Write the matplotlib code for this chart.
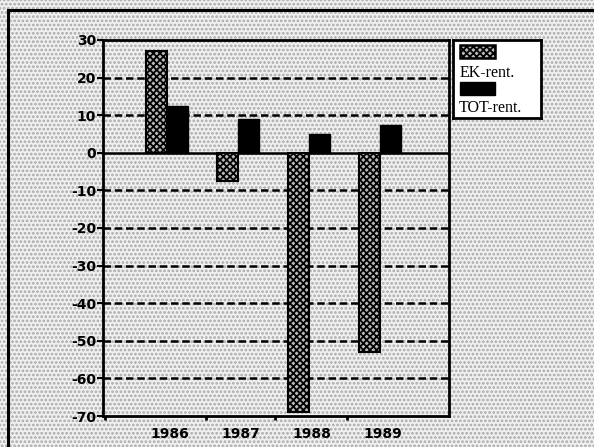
import numpy as np
import matplotlib.pyplot as plt
from matplotlib.patches import Rectangle

# Data
years = ['1986', '1987', '1988', '1989']
ek_rent = [27, -7.5, -69, -53]
tot_rent = [12.5, 9, 5, 7.5]
yticks = [30, 20, 10, 0, -10, -20, -30, -40, -50, -60, -70]

plt.rcParams['hatch.linewidth'] = 1.3

fig = plt.figure(figsize=(5.94, 4.47), dpi=100)
fig.patch.set_facecolor('#f0f0f0')

# stippled background + outer frame
bg = Rectangle((0, 0), 1, 1, transform=fig.transFigure, facecolor='#f0f0f0',
               hatch='....', edgecolor='#a8a8a8', linewidth=0, zorder=-10)
fig.patches.append(bg)
frame = Rectangle((8/594, -0.1), 1.2, 1.1 - 10/447, transform=fig.transFigure,
                  fill=False, edgecolor='black', linewidth=2.2, zorder=5)
fig.patches.append(frame)

ax = fig.add_axes([103/594, 31/447, 346/594, 376/447])
ax.set_facecolor('none')

x = np.arange(len(years))
w = 0.3
ax.bar(x - w/2, ek_rent, w, facecolor='#b8b8b8', edgecolor='black',
       hatch='xxxxx', linewidth=1.5, zorder=3)
ax.bar(x + w/2, tot_rent, w, facecolor='black', edgecolor='black', zorder=3)

ax.set_ylim(-70, 30)
ax.set_xlim(-0.9, 3.97)
ax.set_yticks(yticks)
ax.set_yticklabels([str(t) for t in yticks], fontsize=10, fontweight='bold')
for t in yticks:
    if t in (30, -70):
        continue
    if t == 0:
        ax.axhline(0, color='black', linewidth=1.8, zorder=2)
    else:
        ax.axhline(t, color='black', linewidth=1.8, linestyle=(0, (3, 1.5)), zorder=2)

ax.set_xticks(x + 0.04)
ax.set_xticklabels(years, fontsize=10, fontweight='bold')
ax.tick_params(axis='x', length=0, pad=8)
ax.set_xticks([-0.87, 0.55, 1.52, 2.53], minor=True)
ax.tick_params(axis='x', which='minor', length=3, width=2, direction='out')
ax.tick_params(axis='y', length=4, width=1.5, direction='out', pad=1)
for s in ax.spines.values():
    s.set_linewidth(2)

# legend box
lg = fig.add_axes([453/594, 329/447, 88/594, 78/447])
lg.set_xlim(0, 1)
lg.set_ylim(0, 1)
lg.set_xticks([])
lg.set_yticks([])
lg.set_facecolor('white')
for s in lg.spines.values():
    s.set_linewidth(2)
lg.add_patch(Rectangle((0.08, 0.77), 0.4, 0.165, facecolor='#b8b8b8', edgecolor='black',
                       hatch='xxxxx', linewidth=1.8))
lg.text(0.07, 0.58, 'EK-rent.', fontsize=11.5, family='Liberation Serif', va='center')
lg.add_patch(Rectangle((0.08, 0.295), 0.4, 0.165, facecolor='black', edgecolor='black'))
lg.text(0.07, 0.125, 'TOT-rent.', fontsize=11.5, family='Liberation Serif', va='center')

fig.savefig('out.png', dpi=100, facecolor=fig.get_facecolor())
